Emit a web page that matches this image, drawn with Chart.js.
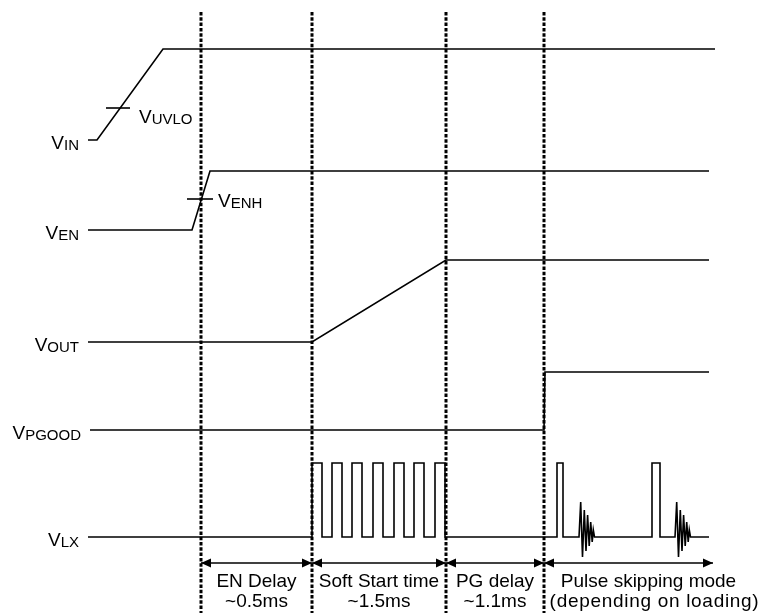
<!DOCTYPE html>
<html>
<head>
<meta charset="utf-8">
<script src="https://cdn.jsdelivr.net/npm/chart.js@4.4.1/dist/chart.umd.min.js"></script>
<style>
  html, body { margin: 0; padding: 0; background: #fff; }
  #wrap { width: 761px; height: 613px; }
</style>
</head>
<body>
<div id="wrap"><canvas id="timing" width="761" height="613"></canvas></div>
<script>
// diagram units: x = time, y = level (grows downward)
const phaseEdges = [201, 312, 446, 544, 713];
const phaseNames = ["EN Delay", "Soft Start time", "PG delay", "Pulse skipping mode"];
const phaseTimes = ["~0.5ms", "~1.5ms", "~1.1ms", "(depending on loading)"];
const markerSpan = [12, 613];
const arrowLevel = 563;

const signalNames = ["IN", "EN", "OUT", "PGOOD", "LX"];
const vIn = [[88, 140], [97, 140], [163, 49], [715, 49]];
const vEn = [[88, 230], [192, 230], [210, 171], [709, 171]];
const vOut = [[88, 342], [312, 342], [446, 260], [709, 260]];
const vPgood = [[90, 430], [544, 430], [545, 372], [709, 372]];
const vLx = [
  [88, 537], [312, 537], [312, 463], [322, 463], [322, 537],
  [332, 537], [332, 463], [342, 463], [342, 537],
  [352, 537], [352, 463], [362, 463], [362, 537],
  [373, 537], [373, 463], [383, 463], [383, 537],
  [394, 537], [394, 463], [404, 463], [404, 537],
  [414, 537], [414, 463], [424, 463], [424, 537],
  [435, 537], [435, 463], [445, 463], [445, 537],
  [557, 537], [557, 463], [563, 463], [563, 537],
  [579, 537], [580.7, 502], [582.5, 557], [584.3, 510], [586, 551],
  [587.6, 515], [589.2, 546], [590.7, 522], [592.2, 542], [593.3, 530], [594.5, 537],
  [652, 537], [652, 463], [660, 463], [660, 537],
  [675, 537], [676.7, 502], [678.5, 557], [680.3, 510], [682, 551],
  [683.6, 515], [685.2, 546], [686.7, 522], [688.2, 542], [689.3, 530], [690.5, 537],
  [709, 537]
];
const signals = [vIn, vEn, vOut, vPgood, vLx];

const thresholdNames = ["UVLO", "ENH"];
const uvloTick = [[106, 108], [130, 108]];
const enhTick = [[187, 199], [213, 199]];
const thresholds = [uvloTick, enhTick];

const FONT = "'Liberation Sans', Arial, Helvetica, sans-serif";
const toPts = (arr) => arr.map(([x, y]) => ({ x, y }));

const lineSet = (pts, width, dash) => ({
  data: toPts(pts),
  showLine: true,
  borderColor: "#000",
  borderWidth: width,
  borderDash: dash || [],
  pointRadius: 0,
  fill: false,
  tension: 0,
});

const datasets = [];
phaseEdges.slice(0, 4).forEach((xv) => {
  datasets.push(lineSet([[xv, markerSpan[0]], [xv, markerSpan[1]]], 3, [3.5, 1.8]));
});
signals.forEach((s) => datasets.push(lineSet(s, 1.6)));
thresholds.forEach((t) => datasets.push(lineSet(t, 1.6)));
for (let i = 0; i < phaseEdges.length - 1; i++) {
  datasets.push(lineSet([[phaseEdges[i], arrowLevel], [phaseEdges[i + 1], arrowLevel]], 1.6));
}

function drawV(ctx, sub, px, py, alignRight) {
  ctx.font = "19px " + FONT;
  const wV = ctx.measureText("V").width;
  ctx.font = "15px " + FONT;
  const wS = ctx.measureText(sub).width;
  const left = alignRight ? px - wV - wS : px;
  ctx.textAlign = "left";
  ctx.font = "19px " + FONT;
  ctx.fillText("V", left, py);
  ctx.font = "15px " + FONT;
  ctx.fillText(sub, left + wV, py + 1);
}

function arrowHead(ctx, tipX, tipY, dir) {
  ctx.beginPath();
  ctx.moveTo(tipX, tipY);
  ctx.lineTo(tipX - dir * 10, tipY - 4.5);
  ctx.lineTo(tipX - dir * 10, tipY + 4.5);
  ctx.closePath();
  ctx.fill();
}

const timingText = {
  id: "timingText",
  afterDatasetsDraw(chart) {
    const { ctx, scales: { x, y } } = chart;
    ctx.save();
    ctx.fillStyle = "#000";
    ctx.textBaseline = "alphabetic";

    // arrowheads on the phase arrows
    const ay = y.getPixelForValue(arrowLevel);
    for (let i = 0; i < phaseEdges.length - 1; i++) {
      arrowHead(ctx, x.getPixelForValue(phaseEdges[i]), ay, -1);
      arrowHead(ctx, x.getPixelForValue(phaseEdges[i + 1]), ay, 1);
    }

    // signal names
    signals.forEach((pts, i) => {
      const px = x.getPixelForValue(pts[0][0]) - 9;
      const py = y.getPixelForValue(pts[0][1]) + 9;
      drawV(ctx, signalNames[i], px, py, true);
    });

    // threshold names
    const offs = [[9, 15], [5, 8]];
    thresholds.forEach((t, i) => {
      const px = x.getPixelForValue(t[1][0]) + offs[i][0];
      const py = y.getPixelForValue(t[1][1]) + offs[i][1];
      drawV(ctx, thresholdNames[i], px, py, false);
    });

    // phase captions
    ctx.textAlign = "center";
    ctx.font = "19px " + FONT;
    phaseNames.forEach((name, i) => {
      const a = x.getPixelForValue(phaseEdges[i]);
      const last = i === phaseNames.length - 1;
      const b = last ? x.getPixelForValue(x.max) : x.getPixelForValue(phaseEdges[i + 1]);
      const cx = (a + b) / 2 - (last ? 4 : 0);
      ctx.fillText(name, cx, 587);
      if (last && "letterSpacing" in ctx) ctx.letterSpacing = "0.7px";
      ctx.fillText(phaseTimes[i], last ? cx + 6 : cx, 607);
      if ("letterSpacing" in ctx) ctx.letterSpacing = "0px";
    });
    ctx.restore();
  },
};

new Chart(document.getElementById("timing"), {
  type: "scatter",
  data: { datasets },
  options: {
    responsive: false,
    animation: false,
    layout: { padding: 0 },
    scales: {
      x: { type: "linear", min: 0, max: 761, display: false },
      y: { type: "linear", min: 0, max: 613, reverse: true, display: false },
    },
    plugins: { legend: { display: false }, tooltip: { enabled: false } },
    elements: { point: { radius: 0 }, line: { tension: 0 } },
  },
  plugins: [timingText],
});
</script>
</body>
</html>
